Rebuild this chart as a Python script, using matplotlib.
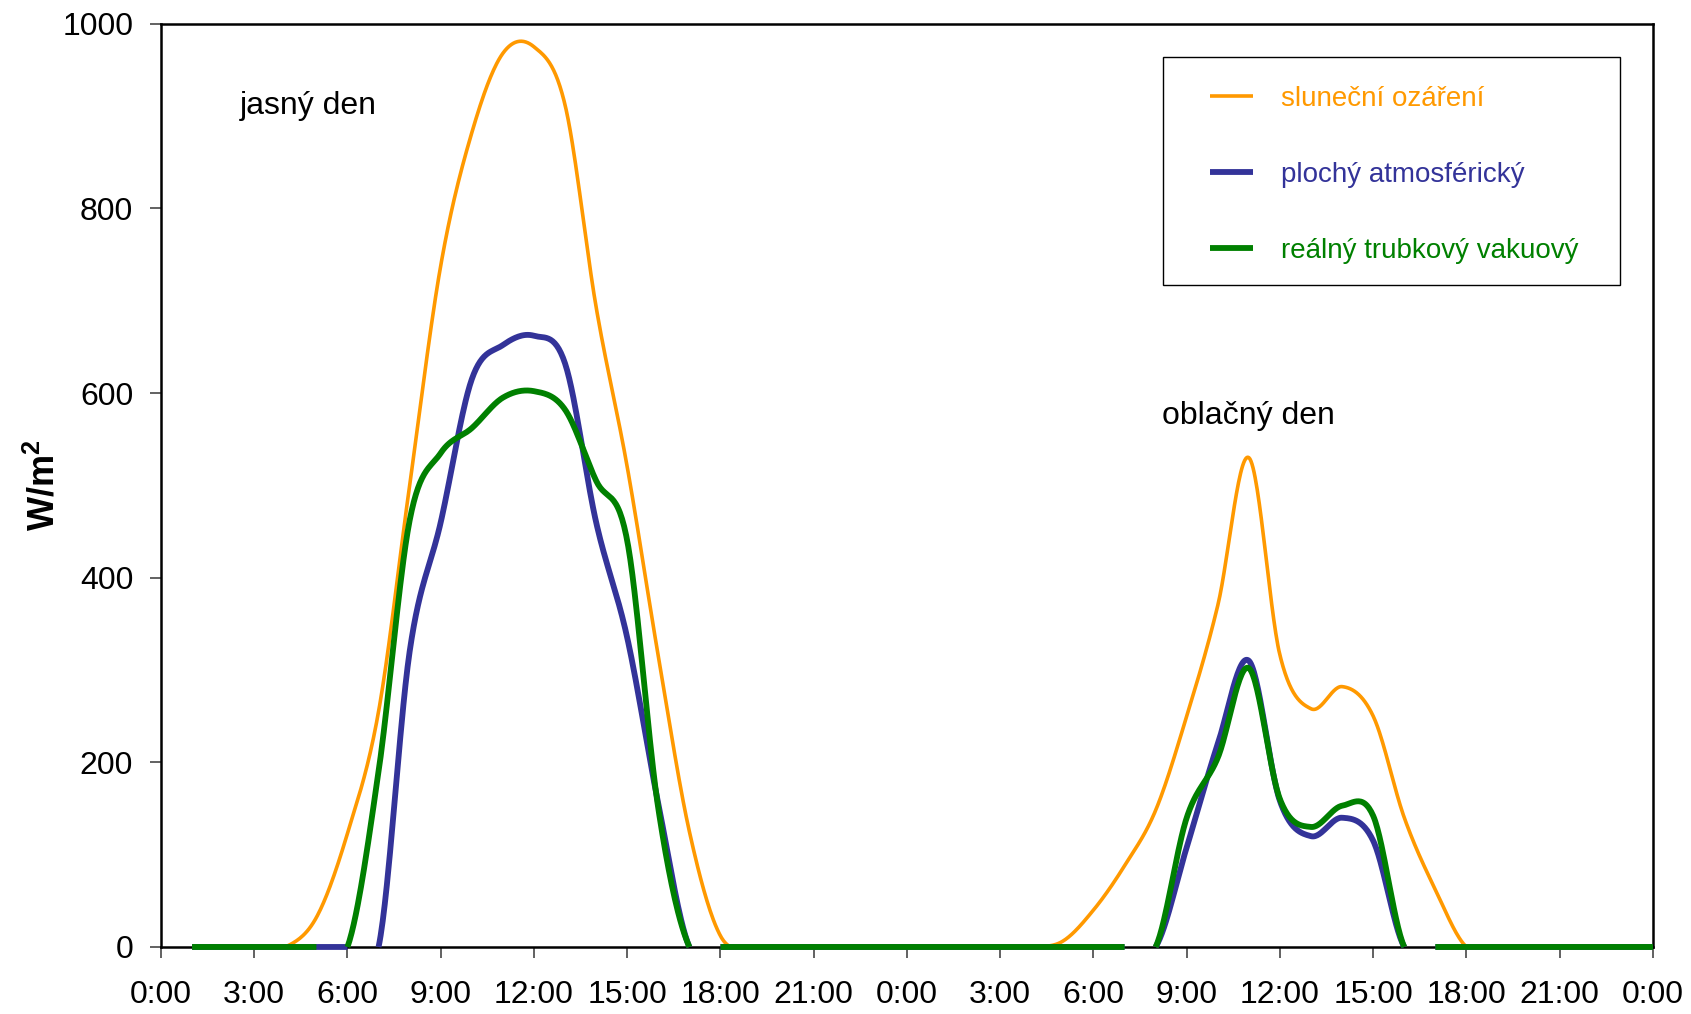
import numpy as np
import matplotlib
matplotlib.use("Agg")
import matplotlib.pyplot as plt
from matplotlib.patches import Rectangle

plt.rcParams['font.family'] = ['Liberation Sans', 'DejaVu Sans']
plt.rcParams['mathtext.fontset'] = 'custom'
plt.rcParams['mathtext.rm'] = 'Liberation Sans'
plt.rcParams['mathtext.bf'] = 'Liberation Sans:bold'

# ===============================
# Data (hourly values, W/m2), hours 1..48 (two days)
# ===============================
hours = list(range(1, 49))

slunecni_ozareni = [
    0, 0, 0, 0, 32, 123, 255, 500, 738, 882, 968, 975,
    912, 693, 520, 315, 125, 12, 0, 0, 0, 0, 0, 0,
    0, 0, 0, 0, 6, 40, 88, 148, 250, 370, 530, 316,
    258, 282, 250, 140, 62, 0, 0, 0, 0, 0, 0, 0,
]
plochy_atmosfericky = [
    0, 0, 0, 0, 0, 0, 0, 320, 460, 615, 652, 662,
    632, 460, 335, 155, 0, 0, 0, 0, 0, 0, 0, 0,
    0, 0, 0, 0, 0, 0, 0, 0, 108, 220, 310, 158,
    120, 140, 115, 0, 0, 0, 0, 0, 0, 0, 0, 0,
]
realny_trubkovy = [
    0, 0, 0, 0, 0, 0, 190, 462, 535, 562, 595, 602,
    582, 505, 440, 150, 0, 0, 0, 0, 0, 0, 0, 0,
    0, 0, 0, 0, 0, 0, 0, 0, 140, 205, 302, 160,
    130, 153, 142, 0, 0, 0, 0, 0, 0, 0, 0, 0,
]

labels = ["sluneční ozáření", "plochý atmosférický", "reálný trubkový vakuový"]
tick_hours = list(range(0, 49, 3))
tick_labels = [f"{h % 24}:00" for h in tick_hours]


# ===============================
# Smoothed line drawing (like spreadsheet "smoothed line")
# ===============================
def smooth_line(x, y, n=30):
    x = np.asarray(x, float)
    y = np.asarray(y, float)
    xs, ys = [], []
    for i in range(len(x) - 1):
        y0 = y[i - 1] if i > 0 else y[i]
        y3 = y[i + 2] if i + 2 < len(y) else y[i + 1]
        m1 = (y[i + 1] - y0) / 2.0
        m2 = (y3 - y[i]) / 2.0
        t = np.linspace(0, 1, n, endpoint=(i == len(x) - 2))
        h00 = 2 * t**3 - 3 * t**2 + 1
        h10 = t**3 - 2 * t**2 + t
        h01 = -2 * t**3 + 3 * t**2
        h11 = t**3 - t**2
        xs.append(x[i] + t * (x[i + 1] - x[i]))
        ys.append(h00 * y[i] + h10 * m1 + h01 * y[i + 1] + h11 * m2)
    xs = np.concatenate(xs)
    ys = np.concatenate(ys)
    ys[ys < -1e-9] = np.nan  # hidden below the axis
    return xs, ys


fig = plt.figure(figsize=(16.91, 10.14), dpi=100)
ax = fig.add_axes([0.0952, 0.0661, 0.8823, 0.9105])

series = [
    (slunecni_ozareni, "#FF9900", 2.6),
    (plochy_atmosfericky, "#333399", 4.2),
    (realny_trubkovy, "#008000", 4.2),
]
handles = []
for (vals, col, lw), lab in zip(series, labels):
    sx, sy = smooth_line(hours, vals)
    ln, = ax.plot(sx, sy, color=col, lw=lw, label=lab, clip_on=False,
                  zorder=3, solid_capstyle="butt")
    handles.append(ln)

ax.set_xlim(0, 48)
ax.set_ylim(0, 1000)
ax.set_xticks(tick_hours)
ax.set_xticklabels(tick_labels)
ax.set_yticks(range(0, 1001, 200))
ax.tick_params(axis="both", labelsize=23, length=8, width=1.3, color="#555555",
               direction="out")
ax.tick_params(axis="x", pad=16)
ax.tick_params(axis="y", pad=12)
for sp in ax.spines.values():
    sp.set_linewidth(1.8)
    sp.set_color("black")

ax.set_ylabel(r"$\mathbf{W/m^2}$", fontsize=26)
ax.yaxis.set_label_coords(-0.066, 0.5)

ax.text(2.53, 911, "jasný den", fontsize=23, ha="left", va="center")
ax.text(32.2, 575, "oblačný den", fontsize=23, ha="left", va="center")

# legend: frame drawn separately
W, H = 1691.0, 1014.0
fig.patches.append(Rectangle((1162.5 / W, 1 - 285 / H), (1620 - 1162.5) / W, (285 - 57) / H,
                             transform=fig.transFigure, fill=False, ec="black", lw=1.0,
                             zorder=5))
leg = fig.legend(handles=handles, loc="upper left",
                 bbox_to_anchor=(1210 / W, 1 - 86 / H), frameon=False,
                 fontsize=20, labelcolor="linecolor", handlelength=1.55,
                 handletextpad=1.0, labelspacing=1.8, borderpad=0, borderaxespad=0)

fig.savefig("out.png", dpi=100)
